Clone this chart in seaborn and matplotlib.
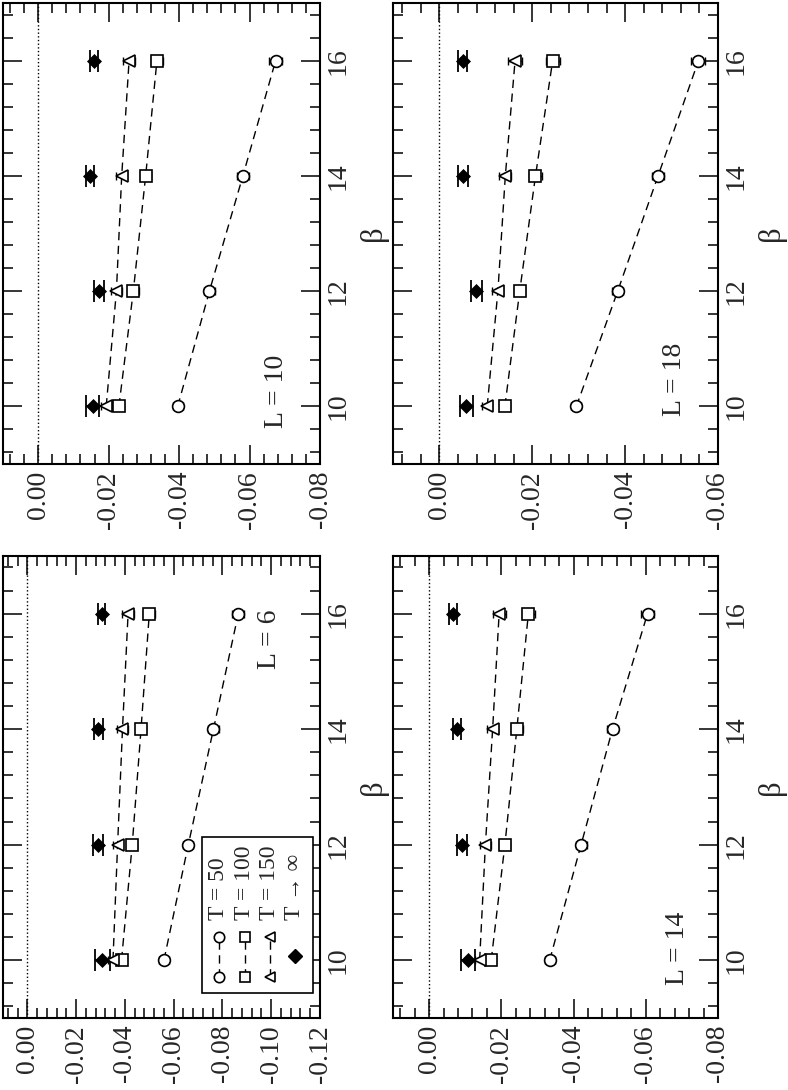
import matplotlib
matplotlib.use('Agg')
import matplotlib.pyplot as plt
from matplotlib.ticker import MultipleLocator, FuncFormatter
from matplotlib.patches import Rectangle
import pandas as pd
import seaborn as sns

# --- data ---
beta = [10, 12, 14, 16]
series_labels = ['T = 50', 'T = 100', 'T = 150', 'T \u2192 \u221e']

# L = 6
l6_t50 = [-0.0560, -0.0660, -0.0763, -0.0865]
l6_t100 = [-0.0386, -0.0430, -0.0466, -0.0500]
l6_t150 = [-0.0351, -0.0370, -0.0390, -0.0413]
l6_tinf = [-0.0308, -0.0291, -0.0291, -0.0305]
l6_tinf_err = [0.0032, 0.0020, 0.0018, 0.0015]

# L = 10
l10_t50 = [-0.0396, -0.0486, -0.0581, -0.0674]
l10_t100 = [-0.0229, -0.0270, -0.0305, -0.0337]
l10_t150 = [-0.0193, -0.0222, -0.0237, -0.0258]
l10_tinf = [-0.0155, -0.0172, -0.0148, -0.0158]
l10_tinf_err = [0.0018, 0.0014, 0.0011, 0.0011]

# L = 14
l14_t50 = [-0.0334, -0.0421, -0.0508, -0.0605]
l14_t100 = [-0.0172, -0.0210, -0.0243, -0.0275]
l14_t150 = [-0.0140, -0.0156, -0.0176, -0.0194]
l14_tinf = [-0.0108, -0.0092, -0.0078, -0.0067]
l14_tinf_err = [0.0020, 0.0014, 0.0011, 0.0011]

# L = 18
l18_t50 = [-0.0295, -0.0384, -0.0471, -0.0558]
l18_t100 = [-0.0141, -0.0173, -0.0207, -0.0244]
l18_t150 = [-0.0103, -0.0126, -0.0142, -0.0163]
l18_tinf = [-0.0058, -0.0079, -0.0051, -0.0050]
l18_tinf_err = [0.0014, 0.0012, 0.0010, 0.0010]

# small statistical errors of the finite-T points
l6_err = [0.0020, 0.0020, 0.0022, 0.0024]
l10_err = [0.0014, 0.0015, 0.0016, 0.0018]
l14_err = [0.0014, 0.0015, 0.0016, 0.0018]
l18_err = [0.0011, 0.0012, 0.0013, 0.0015]

panels = {
    6: dict(t50=l6_t50, t100=l6_t100, t150=l6_t150, tinf=l6_tinf, tinf_err=l6_tinf_err, err=l6_err, vmin=-0.12),
    10: dict(t50=l10_t50, t100=l10_t100, t150=l10_t150, tinf=l10_tinf, tinf_err=l10_tinf_err, err=l10_err, vmin=-0.08),
    14: dict(t50=l14_t50, t100=l14_t100, t150=l14_t150, tinf=l14_tinf, tinf_err=l14_tinf_err, err=l14_err, vmin=-0.08),
    18: dict(t50=l18_t50, t100=l18_t100, t150=l18_t150, tinf=l18_tinf, tinf_err=l18_tinf_err, err=l18_err, vmin=-0.06),
}

# --- layout (the whole figure is drawn turned by 90 degrees) ---
rects = {
    10: [0.0038, 0.5743, 0.4023, 0.4229],
    18: [0.4987, 0.5743, 0.4124, 0.4229],
    6: [0.0038, 0.0661, 0.4023, 0.4239],
    14: [0.4987, 0.0661, 0.4124, 0.4239],
}
label_pos = {6: (0.842, 0.82), 10: (0.864, 0.157), 14: (0.877, 0.151), 18: (0.865, 0.184)}

sns.set_style('ticks')
plt.rcParams['font.family'] = ['Liberation Serif', 'DejaVu Serif']
plt.rcParams['axes.unicode_minus'] = False

DASH = (0, (6, 4))
MS = 8.5
markers = {'t50': 'o', 't100': 's', 't150': '<'}

fig = plt.figure(figsize=(7.88, 10.90), dpi=100)
fmt = FuncFormatter(lambda v, p: f"{round(v, 2) + 0.0:.2f}")

for L, d in panels.items():
    ax = fig.add_axes(rects[L])
    ax.axvline(0.0, color='black', ls=':', lw=1.0, zorder=1)

    for key in ['t50', 't100', 't150']:
        df = pd.DataFrame({'beta': beta, 'val': d[key]})
        ax.errorbar(df['val'], df['beta'], xerr=d['err'], fmt='none', ecolor='black',
                    elinewidth=1.0, capsize=3, capthick=1.0, zorder=2)
        sns.lineplot(data=df, x='val', y='beta', orient='y', sort=False, ax=ax,
                     color='black', lw=1.0, linestyle=DASH, marker=markers[key],
                     markersize=MS, markerfacecolor='white', markeredgecolor='black',
                     markeredgewidth=1.2, errorbar=None, zorder=3)

    dfi = pd.DataFrame({'beta': beta, 'val': d['tinf']})
    ax.errorbar(dfi['val'], dfi['beta'], xerr=d['tinf_err'], fmt='none', ecolor='black',
                elinewidth=1.3, capsize=8, capthick=1.3, zorder=2)
    sns.scatterplot(data=dfi, x='val', y='beta', marker='D', color='black',
                    edgecolor='black', s=50, ax=ax, zorder=4)

    ax.set_xlim(0.01, d['vmin'])
    ax.set_ylim(9, 17)
    ax.xaxis.set_major_locator(MultipleLocator(0.02))
    ax.xaxis.set_minor_locator(MultipleLocator(0.004))
    ax.xaxis.set_major_formatter(fmt)
    ax.yaxis.set_major_locator(MultipleLocator(2))
    ax.yaxis.set_minor_locator(MultipleLocator(0.4))

    ax.tick_params(which='both', direction='in', top=True, bottom=True,
                   left=True, right=True, color='black', width=1.1)
    ax.tick_params(which='major', length=14)
    ax.tick_params(which='minor', length=7)
    ax.tick_params(axis='x', labelsize=20, labelrotation=90, pad=5)
    ax.tick_params(axis='y', labelsize=20, labelrotation=90, pad=4,
                   labelleft=False, labelright=True)
    for lab in ax.get_yticklabels():
        lab.set_va('center')

    ax.set_xlabel('')
    ax.yaxis.set_label_position('right')
    ax.set_ylabel('\u03b2', fontsize=22, rotation=90, labelpad=6)
    for s in ax.spines.values():
        s.set_linewidth(1.5)
        s.set_color('black')

    lx, ly = label_pos[L]
    ax.text(lx, ly, f'L = {L}', transform=ax.transAxes, rotation=90,
            ha='center', va='center', fontsize=20)

    if L == 6:
        # legend drawn by hand, since it is turned as well
        ax.add_patch(Rectangle((0.629, 0.055), 0.350, 0.336, transform=ax.transAxes,
                               facecolor='white', edgecolor='black', lw=1.2, zorder=5))
        cols = [0.681, 0.763, 0.842, 0.921]
        for i, key in enumerate(['t50', 't100', 't150']):
            ax.plot([cols[i], cols[i]], [0.089, 0.176], transform=ax.transAxes,
                    color='black', lw=1.0, linestyle=DASH, marker=markers[key],
                    markersize=MS - 1, markerfacecolor='white', markeredgecolor='black',
                    markeredgewidth=1.2, zorder=6, clip_on=False)
        ax.plot([cols[3]], [0.133], transform=ax.transAxes, marker='D', color='black',
                markersize=7, ls='none', zorder=6, clip_on=False)
        for c, txt in zip(cols, series_labels):
            ax.text(c, 0.212, txt, transform=ax.transAxes, rotation=90,
                    ha='center', va='bottom', fontsize=17, zorder=7)

fig.savefig('out.png', dpi=100)
